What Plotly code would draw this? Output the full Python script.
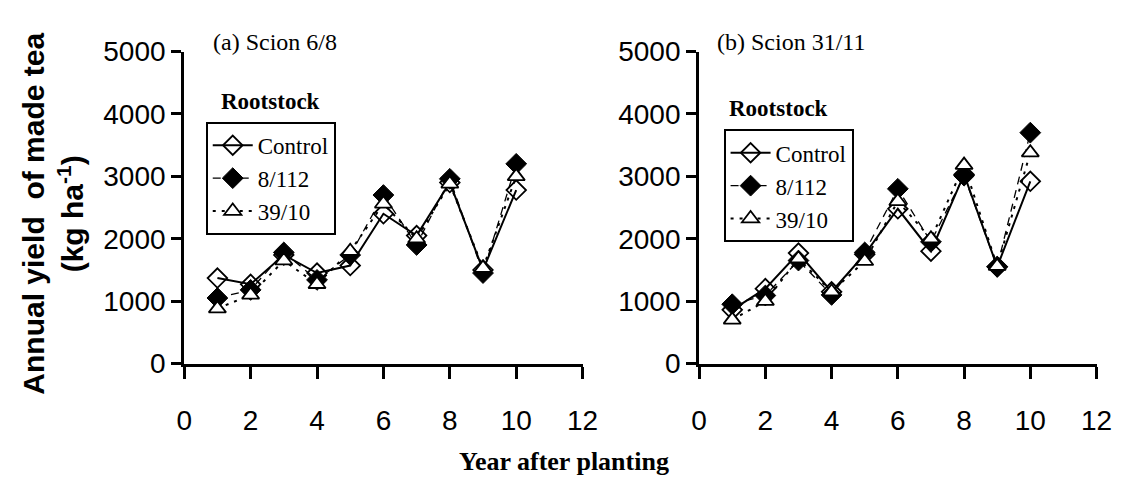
import plotly.graph_objects as go

years = [1, 2, 3, 4, 5, 6, 7, 8, 9, 10]
series_names = ["Control", "8/112", "39/10"]

# Panel (a) Scion 6/8
a_control = [1370, 1270, 1740, 1450, 1570, 2400, 2050, 2900, 1500, 2780]
a_8112 = [1050, 1180, 1780, 1340, 1740, 2700, 1900, 2960, 1450, 3200]
a_3910 = [880, 1100, 1650, 1270, 1800, 2560, 2000, 2880, 1530, 3000]

# Panel (b) Scion 31/11
b_control = [860, 1200, 1770, 1150, 1750, 2480, 1800, 3030, 1550, 2920]
b_8112 = [950, 1090, 1650, 1100, 1780, 2800, 1950, 3010, 1550, 3700]
b_3910 = [700, 1000, 1680, 1150, 1640, 2600, 2000, 3180, 1560, 3380]

x_ticks = [0, 2, 4, 6, 8, 10, 12]
y_ticks = [0, 1000, 2000, 3000, 4000, 5000]

styles = {
    "Control": dict(line=dict(color="black", width=2, dash="solid"),
                    marker=dict(symbol="diamond-open", size=15, color="black", line=dict(width=1.8, color="black"))),
    "8/112": dict(line=dict(color="black", width=1.3, dash="8px,6px"),
                  marker=dict(symbol="diamond", size=16, color="black", line=dict(width=1, color="black"))),
    "39/10": dict(line=dict(color="black", width=2, dash="3px,6px"),
                  marker=dict(symbol="triangle-up", size=15, color="white", line=dict(width=1.8, color="black"))),
}

fig = go.Figure()
panels = [
    ("x", "y", "legend", [a_control, a_8112, a_3910]),
    ("x2", "y2", "legend2", [b_control, b_8112, b_3910]),
]
for xa, ya, lg, data in panels:
    for name, vals in zip(series_names, data):
        st = styles[name]
        fig.add_trace(go.Scatter(
            x=years, y=vals, name=name, mode="lines+markers",
            xaxis=xa, yaxis=ya, legend=lg,
            line=st["line"], marker=st["marker"],
        ))

tickfont = dict(family="Liberation Sans, Arial, sans-serif", size=28, color="black")
common_x = dict(range=[0, 12], tickvals=x_ticks, showline=True, linecolor="black", linewidth=3,
                ticks="outside", ticklen=12, tickwidth=3, tickcolor="black", showgrid=False,
                zeroline=False, tickfont=tickfont, ticklabelstandoff=18)
common_y = dict(range=[0, 5000], tickvals=y_ticks, showline=True, linecolor="black", linewidth=3,
                ticks="outside", ticklen=10, tickwidth=3, tickcolor="black", showgrid=False,
                zeroline=False, tickfont=tickfont)

legend_font = dict(family="Liberation Serif, Times New Roman, serif", size=23, color="black")
ydom = [1 - 372 / 491, 1 - 39 / 491]
fig.update_layout(
    width=1138, height=491,
    margin=dict(l=0, r=0, t=0, b=0),
    paper_bgcolor="white", plot_bgcolor="white",
    xaxis=dict(domain=[180 / 1138, 587 / 1138], anchor="y", **common_x),
    yaxis=dict(domain=ydom, anchor="x", **common_y),
    xaxis2=dict(domain=[706 / 1138, 1112 / 1138], anchor="y2", **common_x),
    yaxis2=dict(domain=ydom, anchor="x2", **common_y),
    showlegend=True,
    legend=dict(x=202 / 1138, y=1 - 114 / 491, xanchor="left", yanchor="top",
                bordercolor="black", borderwidth=2, bgcolor="white",
                font=legend_font, tracegroupgap=0, itemwidth=40),
    legend2=dict(x=731 / 1138, y=1 - 122 / 491, xanchor="left", yanchor="top",
                 bordercolor="black", borderwidth=2, bgcolor="white",
                 font=legend_font, tracegroupgap=0, itemwidth=40),
)

serif = "Liberation Serif, Times New Roman, serif"
annotations = [
    dict(text="(a) Scion 6/8", x=207 / 1138, y=1 - 29 / 491, xanchor="left", yanchor="middle",
         font=dict(family=serif, size=24, color="black")),
    dict(text="(b) Scion 31/11", x=722 / 1138, y=1 - 29 / 491, xanchor="left", yanchor="middle",
         font=dict(family=serif, size=24, color="black")),
    dict(text="<b>Rootstock</b>", x=216 / 1138, y=1 - 92 / 491, xanchor="left", yanchor="middle",
         font=dict(family=serif, size=23, color="black")),
    dict(text="<b>Rootstock</b>", x=734 / 1138, y=1 - 100 / 491, xanchor="left", yanchor="middle",
         font=dict(family=serif, size=23, color="black")),
    dict(text="<b>Year after planting</b>", x=568 / 1138, y=1 - 477 / 491, xanchor="center", yanchor="middle",
         font=dict(family=serif, size=26, color="black")),
    dict(text="<b>Annual yield  of made tea<br>(kg ha<sup>-1</sup>)</b>", x=46 / 1138, y=1 - 212 / 491,
         xanchor="center", yanchor="middle", textangle=-90,
         font=dict(family="Liberation Sans, Arial, sans-serif", size=30, color="black")),
]
for a in annotations:
    a.update(xref="paper", yref="paper", showarrow=False)
fig.update_layout(annotations=annotations)

fig.write_html("out.html")
